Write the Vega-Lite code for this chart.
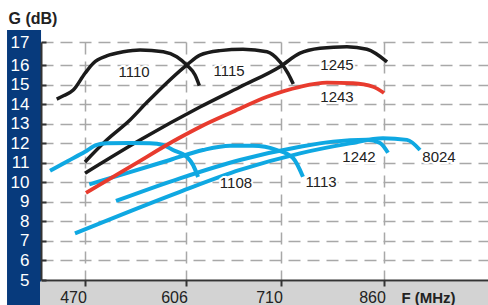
{
  "$schema": "https://vega.github.io/schema/vega-lite/v6.json",
  "width": 447,
  "height": 238,
  "autosize": "none",
  "padding": {"left": 41, "top": 42, "right": 0, "bottom": 25},
  "background": "white",
  "config": {"view": {"stroke": null}, "font": "Liberation Sans"},
  "datasets": {
    "curves": [
      {"curve": "1110", "kind": "black", "f": 431.9, "g": 14.27},
      {"curve": "1110", "kind": "black", "f": 441.7, "g": 14.45},
      {"curve": "1110", "kind": "black", "f": 454.2, "g": 14.73},
      {"curve": "1110", "kind": "black", "f": 470.0, "g": 15.59},
      {"curve": "1110", "kind": "black", "f": 481.2, "g": 16.09},
      {"curve": "1110", "kind": "black", "f": 499.2, "g": 16.40},
      {"curve": "1110", "kind": "black", "f": 521.6, "g": 16.58},
      {"curve": "1110", "kind": "black", "f": 544.1, "g": 16.66},
      {"curve": "1110", "kind": "black", "f": 575.4, "g": 16.58},
      {"curve": "1110", "kind": "black", "f": 593.5, "g": 16.37},
      {"curve": "1110", "kind": "black", "f": 606.8, "g": 16.01},
      {"curve": "1110", "kind": "black", "f": 615.9, "g": 15.50},
      {"curve": "1110", "kind": "black", "f": 620.6, "g": 14.96},
      {"curve": "1115", "kind": "black", "f": 470.0, "g": 11.05},
      {"curve": "1115", "kind": "black", "f": 499.2, "g": 12.17},
      {"curve": "1115", "kind": "black", "f": 530.6, "g": 13.20},
      {"curve": "1115", "kind": "black", "f": 553.1, "g": 14.09},
      {"curve": "1115", "kind": "black", "f": 606.8, "g": 16.01},
      {"curve": "1115", "kind": "black", "f": 621.3, "g": 16.44},
      {"curve": "1115", "kind": "black", "f": 643.2, "g": 16.63},
      {"curve": "1115", "kind": "black", "f": 668.4, "g": 16.69},
      {"curve": "1115", "kind": "black", "f": 694.7, "g": 16.58},
      {"curve": "1115", "kind": "black", "f": 708.9, "g": 16.15},
      {"curve": "1115", "kind": "black", "f": 720.2, "g": 15.59},
      {"curve": "1115", "kind": "black", "f": 727.9, "g": 15.04},
      {"curve": "1245", "kind": "black", "f": 470.0, "g": 10.47},
      {"curve": "1245", "kind": "black", "f": 544.1, "g": 12.17},
      {"curve": "1245", "kind": "black", "f": 621.3, "g": 13.86},
      {"curve": "1245", "kind": "black", "f": 665.1, "g": 14.89},
      {"curve": "1245", "kind": "black", "f": 708.9, "g": 15.93},
      {"curve": "1245", "kind": "black", "f": 737.7, "g": 16.52},
      {"curve": "1245", "kind": "black", "f": 766.8, "g": 16.73},
      {"curve": "1245", "kind": "black", "f": 806.1, "g": 16.80},
      {"curve": "1245", "kind": "black", "f": 835.2, "g": 16.69},
      {"curve": "1245", "kind": "black", "f": 864.4, "g": 16.15},
      {"curve": "1243", "kind": "red", "f": 471.3, "g": 9.46},
      {"curve": "1243", "kind": "red", "f": 534.6, "g": 10.89},
      {"curve": "1243", "kind": "red", "f": 597.9, "g": 12.30},
      {"curve": "1243", "kind": "red", "f": 621.3, "g": 12.84},
      {"curve": "1243", "kind": "red", "f": 657.5, "g": 13.62},
      {"curve": "1243", "kind": "red", "f": 694.7, "g": 14.39},
      {"curve": "1243", "kind": "red", "f": 737.7, "g": 14.90},
      {"curve": "1243", "kind": "red", "f": 777.0, "g": 15.11},
      {"curve": "1243", "kind": "red", "f": 814.9, "g": 15.08},
      {"curve": "1243", "kind": "red", "f": 844.0, "g": 14.90},
      {"curve": "1243", "kind": "red", "f": 860.0, "g": 14.58},
      {"curve": "1108", "kind": "cyan", "f": 422.9, "g": 10.60},
      {"curve": "1108", "kind": "cyan", "f": 447.1, "g": 11.10},
      {"curve": "1108", "kind": "cyan", "f": 470.0, "g": 11.57},
      {"curve": "1108", "kind": "cyan", "f": 485.8, "g": 11.92},
      {"curve": "1108", "kind": "cyan", "f": 499.2, "g": 12.00},
      {"curve": "1108", "kind": "cyan", "f": 530.6, "g": 12.02},
      {"curve": "1108", "kind": "cyan", "f": 557.5, "g": 12.00},
      {"curve": "1108", "kind": "cyan", "f": 575.0, "g": 11.92},
      {"curve": "1108", "kind": "cyan", "f": 588.5, "g": 11.66},
      {"curve": "1108", "kind": "cyan", "f": 607.1, "g": 11.30},
      {"curve": "1108", "kind": "cyan", "f": 613.7, "g": 10.89},
      {"curve": "1108", "kind": "cyan", "f": 619.2, "g": 10.28},
      {"curve": "1113", "kind": "cyan", "f": 475.8, "g": 9.90},
      {"curve": "1113", "kind": "cyan", "f": 530.6, "g": 10.53},
      {"curve": "1113", "kind": "cyan", "f": 584.5, "g": 11.15},
      {"curve": "1113", "kind": "cyan", "f": 624.6, "g": 11.66},
      {"curve": "1113", "kind": "cyan", "f": 654.2, "g": 11.88},
      {"curve": "1113", "kind": "cyan", "f": 679.3, "g": 11.88},
      {"curve": "1113", "kind": "cyan", "f": 705.6, "g": 11.66},
      {"curve": "1113", "kind": "cyan", "f": 727.5, "g": 11.25},
      {"curve": "1113", "kind": "cyan", "f": 742.0, "g": 10.29},
      {"curve": "1242", "kind": "cyan", "f": 511.7, "g": 9.05},
      {"curve": "1242", "kind": "cyan", "f": 597.9, "g": 10.21},
      {"curve": "1242", "kind": "cyan", "f": 665.1, "g": 11.15},
      {"curve": "1242", "kind": "cyan", "f": 737.7, "g": 11.83},
      {"curve": "1242", "kind": "cyan", "f": 785.7, "g": 12.09},
      {"curve": "1242", "kind": "cyan", "f": 835.2, "g": 12.18},
      {"curve": "1242", "kind": "cyan", "f": 854.2, "g": 12.02},
      {"curve": "1242", "kind": "cyan", "f": 865.8, "g": 11.52},
      {"curve": "8024", "kind": "cyan", "f": 456.5, "g": 7.39},
      {"curve": "8024", "kind": "cyan", "f": 597.9, "g": 9.52},
      {"curve": "8024", "kind": "cyan", "f": 665.1, "g": 10.64},
      {"curve": "8024", "kind": "cyan", "f": 737.7, "g": 11.49},
      {"curve": "8024", "kind": "cyan", "f": 810.5, "g": 12.00},
      {"curve": "8024", "kind": "cyan", "f": 858.5, "g": 12.26},
      {"curve": "8024", "kind": "cyan", "f": 893.5, "g": 12.18},
      {"curve": "8024", "kind": "cyan", "f": 912.4, "g": 11.66}
    ],
    "labels": [
      {"name": "1110", "f": 536.0, "g": 15.66},
      {"name": "1115", "f": 653.1, "g": 15.71},
      {"name": "1245", "f": 791.6, "g": 16.01},
      {"name": "1243", "f": 791.6, "g": 14.38},
      {"name": "1108", "f": 660.7, "g": 9.97},
      {"name": "1113", "f": 768.3, "g": 10.02},
      {"name": "1242", "f": 823.6, "g": 11.30},
      {"name": "8024", "f": 940.1, "g": 11.30}
    ]
  },
  "layer": [
    {
      "data": {"values": [{}]},
      "mark": {"type": "rect", "color": "#073a7c", "clip": false},
      "encoding": {
        "x": {"datum": 365.0, "type": "quantitative",
          "scale": {"domain": [410.75, 470, 606, 710, 860, 1011.5], "range": [0, 44, 145, 240, 343, 447], "zero": false, "nice": false},
          "axis": {"orient": "bottom", "values": [470, 606, 710, 860], "grid": true, "labels": false, "ticks": false, "domain": false, "title": null, "gridColor": "#a8a8a8", "gridDash": [12, 7], "gridWidth": 1.5, "zindex": 0}},
        "x2": {"datum": 410.8},
        "y": {"datum": 3.72, "type": "quantitative",
          "scale": {"domain": [5, 16, 17], "range": [238, 23.3, 0], "zero": false, "nice": false},
          "axis": {"orient": "left", "values": [6, 7, 8, 9, 10, 11, 12, 13, 14, 15, 16, 17], "grid": true, "labels": false, "ticks": false, "domain": false, "title": null, "gridColor": "#a8a8a8", "gridDash": [12, 7], "gridWidth": 1.5, "zindex": 0}},
        "y2": {"datum": 17.515}
      }
    },
    {
      "data": {"values": [{}]},
      "mark": {"type": "rect", "color": "#d3d3d3", "clip": false},
      "encoding": {
        "x": {"datum": 409.4, "type": "quantitative", "axis": null},
        "x2": {"datum": 1011.5},
        "y": {"datum": 3.72, "type": "quantitative", "axis": null},
        "y2": {"datum": 4.92}
      }
    },
    {
      "data": {"name": "curves"},
      "transform": [{"filter": "datum.kind === 'black'"}],
      "mark": {"type": "line", "color": "#1b1b1b", "strokeWidth": 3.5, "interpolate": "monotone", "clip": false},
      "encoding": {
        "x": {"field": "f", "type": "quantitative",
          "axis": {"orient": "bottom", "values": [470, 606, 710, 860], "grid": false,
            "domainColor": "#333333", "domainWidth": 2, "tickColor": "#333333", "tickWidth": 2, "tickSize": 6,
            "labelFontSize": 16, "labelColor": "#222222", "labelPadding": 3, "labelFont": "Liberation Sans",
            "labelOffset": -12,
            "title": "F (MHz)", "titleX": 387, "titleY": 22, "titleAlign": "center", "titleBaseline": "alphabetic",
            "titleFontSize": 15, "titleFontWeight": "bold", "titleColor": "#222222", "titleFont": "Liberation Sans", "zindex": 1}},
        "y": {"field": "g", "type": "quantitative",
          "axis": {"orient": "left", "values": [5, 6, 7, 8, 9, 10, 11, 12, 13, 14, 15, 16, 17], "grid": false,
            "domainColor": "#333333", "domainWidth": 2, "tickColor": "#333333", "tickWidth": 2, "tickSize": -5,
            "labelFontSize": 17, "labelColor": "white", "labelPadding": 17, "labelFont": "Liberation Sans", "labelBaseline": "middle",
            "title": "G (dB)", "titleAngle": 0, "titleAlign": "left", "titleBaseline": "alphabetic", "titleX": -33, "titleY": -19,
            "titleFontSize": 16, "titleFontWeight": "bold", "titleColor": "#222222", "titleFont": "Liberation Sans", "zindex": 1}},
        "detail": {"field": "curve"}
      }
    },
    {
      "data": {"name": "curves"},
      "transform": [{"filter": "datum.kind === 'cyan'"}],
      "mark": {"type": "line", "color": "#0fa8e2", "strokeWidth": 4, "interpolate": "monotone", "clip": false},
      "encoding": {
        "x": {"field": "f", "type": "quantitative", "axis": null},
        "y": {"field": "g", "type": "quantitative", "axis": null},
        "detail": {"field": "curve"}
      }
    },
    {
      "data": {"name": "curves"},
      "transform": [{"filter": "datum.kind === 'red'"}],
      "mark": {"type": "line", "color": "#e83b2e", "strokeWidth": 3.8, "interpolate": "monotone", "clip": false},
      "encoding": {
        "x": {"field": "f", "type": "quantitative", "axis": null},
        "y": {"field": "g", "type": "quantitative", "axis": null},
        "detail": {"field": "curve"}
      }
    },
    {
      "data": {"name": "labels"},
      "mark": {"type": "text", "fontSize": 15, "font": "Liberation Sans", "align": "center", "baseline": "middle", "color": "white", "stroke": "white", "strokeWidth": 4},
      "encoding": {
        "x": {"field": "f", "type": "quantitative", "axis": null},
        "y": {"field": "g", "type": "quantitative", "axis": null},
        "text": {"field": "name"}
      }
    },
    {
      "data": {"name": "labels"},
      "mark": {"type": "text", "fontSize": 15, "font": "Liberation Sans", "align": "center", "baseline": "middle", "color": "#222222"},
      "encoding": {
        "x": {"field": "f", "type": "quantitative", "axis": null},
        "y": {"field": "g", "type": "quantitative", "axis": null},
        "text": {"field": "name"}
      }
    }
  ],
  "resolve": {"axis": {"x": "independent", "y": "independent"}}
}
